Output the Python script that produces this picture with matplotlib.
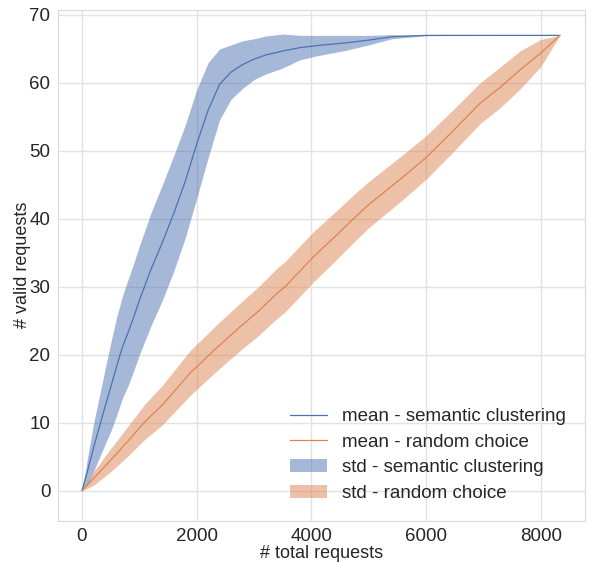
import numpy as np
import matplotlib
matplotlib.use("Agg")
import matplotlib.pyplot as plt
import seaborn as sns

# semantic clustering
sem_x = [0, 100, 200, 300, 400, 500, 600, 700, 800, 900, 1000, 1200, 1400, 1600, 1800,
         2000, 2200, 2400, 2600, 2800, 3000, 3200, 3500, 3800, 4100, 4600, 5000, 5400,
         6000, 7000, 8335]
sem_mean = [0, 3, 6.3, 9.3, 12.3, 15.2, 18.2, 21, 23.2, 25.5, 28, 32.5, 36.5, 40.8, 45.5,
            51, 56, 59.8, 61.6, 62.7, 63.5, 64.1, 64.7, 65.2, 65.5, 65.9, 66.3, 66.8,
            67, 67, 67]
sem_std = [0, 2, 3.5, 4.5, 5.5, 6.5, 7.2, 7.5, 7.8, 7.9, 8, 8.3, 8.5, 8.5, 8.3,
           8, 7, 5.2, 4, 3.5, 3, 2.8, 2.5, 1.8, 1.5, 1.1, 0.7, 0.3,
           0.05, 0.02, 0]

# random choice
rnd_x = [0, 200, 500, 800, 1100, 1400, 1883, 2319, 2755, 3100, 3394, 3540, 4033, 4400,
         4731, 5000, 5603, 6010, 6500, 6940, 7300, 7637, 8000, 8335]
rnd_mean = [0, 1.8, 4.5, 7.3, 10.2, 12.6, 17.3, 20.8, 24.1, 26.6, 29, 30, 34.4, 37.3,
            40, 42.1, 46.2, 49.1, 53.2, 57, 59.4, 61.9, 64.4, 67]
rnd_std = [0, 1.0, 1.7, 2.2, 2.6, 2.9, 3.3, 3.4, 3.5, 3.6, 3.7, 3.7, 3.7, 3.6,
           3.5, 3.4, 3.3, 3.2, 3.1, 3.0, 3.0, 2.8, 2.0, 0]

sns.set_style("whitegrid")
plt.rcParams['font.family'] = ['Liberation Sans', 'DejaVu Sans']

blue = "#4c72b0"
orange = "#dd8452"

sem_x = np.array(sem_x); sem_mean = np.array(sem_mean); sem_std = np.array(sem_std)
rnd_x = np.array(rnd_x); rnd_mean = np.array(rnd_mean); rnd_std = np.array(rnd_std)

fig, ax = plt.subplots(figsize=(5.89, 5.62), dpi=100)
fig.subplots_adjust(left=0.0985, right=0.993, bottom=0.0735, top=0.983)

ax.plot(sem_x, sem_mean, color=blue, lw=0.9, label="mean - semantic clustering")
ax.plot(rnd_x, rnd_mean, color=orange, lw=0.9, label="mean - random choice")
ax.fill_between(sem_x, sem_mean - sem_std, sem_mean + sem_std, color=blue, alpha=0.5,
                lw=0, label="std - semantic clustering")
ax.fill_between(rnd_x, rnd_mean - rnd_std, rnd_mean + rnd_std, color=orange, alpha=0.5,
                lw=0, label="std - random choice")

ax.set_xlim(-418, 8770)
ax.set_ylim(-4.4, 70.8)
ax.set_xticks([0, 2000, 4000, 6000, 8000])
ax.set_yticks([0, 10, 20, 30, 40, 50, 60, 70])
ax.grid(color="#e2e2e2", lw=1)
for s in ax.spines.values():
    s.set_color("#dadada")
ax.tick_params(labelsize=13.5, colors=".15", pad=2)
ax.set_xlabel("# total requests", fontsize=13, color=".15", labelpad=0)
ax.set_ylabel("# valid requests", fontsize=13, color=".15", labelpad=-1)

ax.legend(loc="lower right", fontsize=13.5, frameon=False, handlelength=2.0,
          borderaxespad=0.6, labelspacing=0.45, handletextpad=0.8)

fig.savefig("out.png", dpi=100)
